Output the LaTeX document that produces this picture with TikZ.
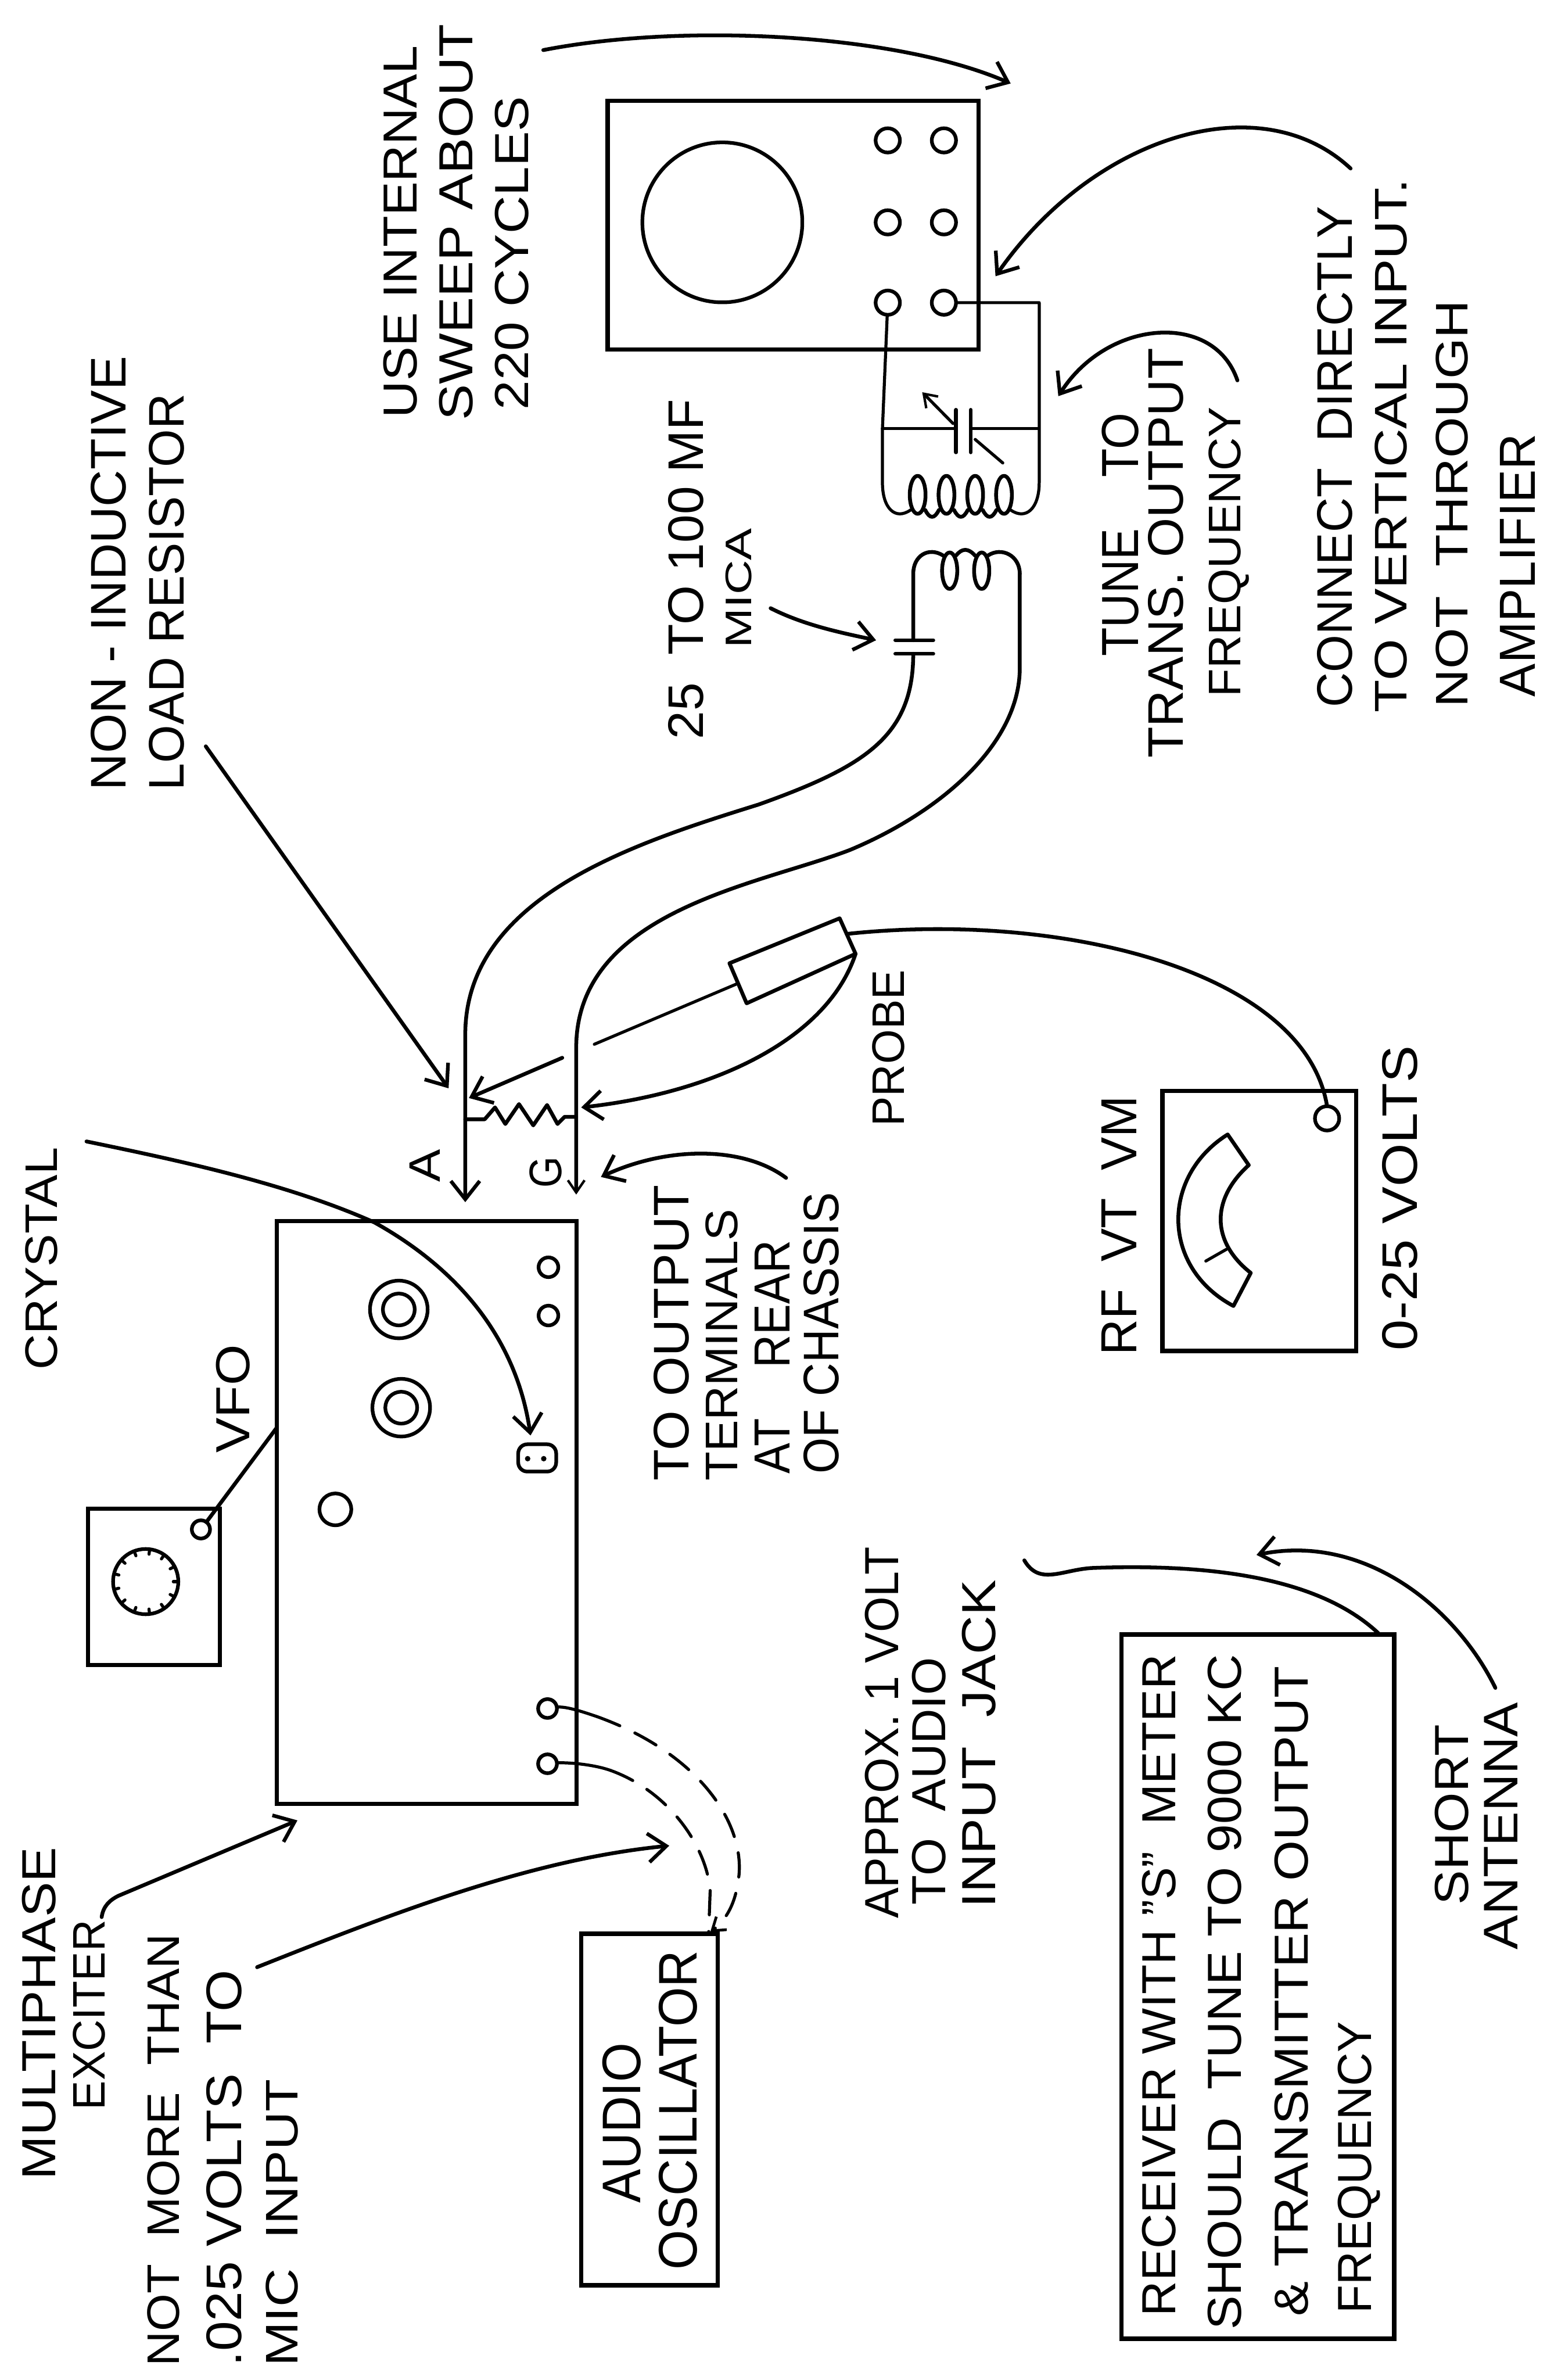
\documentclass[tikz,border=0pt]{standalone}
\usepackage{fontspec}
\usepackage{graphicx}
\setmainfont{Liberation Sans}
\usetikzlibrary{arrows.meta}
\newlength\uu \uu=0.05cm
\newcommand\gp{\hspace{0.55em}}
\tikzset{
  wire/.style={line width=0.125cm,line cap=round,line join=round,black},
  thinw/.style={line width=0.1cm,line cap=round,line join=round,black},
  arr/.style={wire,-{Straight Barb[length=0.6cm,width=0.95cm,line width=0.12cm]}},
  arrs/.style={thinw,-{Straight Barb[length=0.4cm,width=0.55cm,line width=0.08cm]}},
  boxnode/.style={draw,line width=0.14cm,inner sep=0pt,outer sep=0pt,rectangle},
  term/.style={draw,circle,line width=0.12cm,inner sep=0pt,outer sep=0pt},
  lbl/.style={rotate=90,anchor=base west,inner sep=0pt,outer sep=0pt},
  dashw/.style={thinw,dash pattern=on 0.8cm off 0.55cm},
}
\newcommand\lbl[6][22]{\pgfmathsetmacro\lw{#4-#5}\node[lbl] (#2) at (#3,#4) {\resizebox{\lw\uu}{#1\uu}{#6}};}
\newcommand\boxn[5]{\pgfmathsetmacro\bw{#4-#2}\pgfmathsetmacro\bh{#5-#3}\pgfmathsetmacro\bx{(#2+#4)/2}\pgfmathsetmacro\by{(#3+#5)/2}\node[boxnode,minimum width=\bw*0.05cm,minimum height=\bh*0.05cm] (#1) at (\bx,\by) {};}
\newcommand\termn[4]{\node[term,minimum size=#4*0.1cm] (#1) at (#2,#3) {};}
\begin{document}
\begin{tikzpicture}[x=0.05cm,y=-0.05cm]
\useasboundingbox[fill=white] (0,0) rectangle (1019.2,1568);
% boxes
\boxn{scope}{400.4}{66.4}{644.8}{230.2}
\boxn{exciter}{182.5}{804.4}{380}{1188.4}
\boxn{vfo}{58}{994}{145}{1097}
\boxn{vtvm}{766}{718.7}{893.7}{890}
\boxn{osc}{383}{1274}{473}{1505.6}
\boxn{rcv}{739}{1076.8}{918.7}{1540.8}
% scope details
\termn{crt}{476}{146.5}{52.7}
\termn{s1}{585}{92.5}{8}
\termn{s2}{622}{92.5}{8}
\termn{s3}{585}{146.5}{8}
\termn{s4}{622}{146.5}{8}
\termn{s5}{585}{199.4}{8}
\termn{s6}{622}{199.4}{8}
% exciter details
\termn{co1o}{262.8}{862.7}{19}
\termn{co1i}{262.8}{862.7}{10.5}
\termn{co2o}{264.4}{927.4}{19}
\termn{co2i}{264.4}{927.4}{10.5}
\termn{o1}{361.4}{834.9}{6.5}
\termn{o2}{361.4}{866.7}{6.5}
\termn{hole}{221}{994.4}{10.5}
\termn{a1}{360.8}{1125.6}{6.2}
\termn{a2}{360.8}{1162}{6.2}
\node[draw,line width=0.12cm,rounded corners=0.3cm,inner sep=0pt,outer sep=0pt,minimum width=25*0.05cm,minimum height=18*0.05cm] (sock) at (354,960.5) {};
\fill (347.7,961) circle (1.8) (358.3,961) circle (1.8);
% VFO details
\termn{dial}{96}{1042}{21.5}
\foreach \a in {0,27.7,...,359} \draw[thinw] (96,1042) ++(\a:21) -- ++(\a:-2.8);
\termn{vt}{132.4}{1007.6}{6}
\coordinate (ve) at (182.5,940.4);
\draw[wire] (vt) -- (ve);
% VTVM details
\termn{mt}{874.5}{736.8}{8}
\draw[wire] (809,747.4) .. controls (765,775) and (765,835) .. (812.8,860.4) -- (824.2,838.6) .. controls (798,818) and (798,790) .. (822.9,767.6) -- cycle;
\draw[thinw] (794.6,830.8) -- (808.3,823);
% tank circuit
\coordinate (capL) at (581.5,282.4);
\coordinate (capR) at (684,282.4);
\coordinate (coilL) at (581.5,318);
\coordinate (coilR) at (684.8,318);
\coordinate (rc) at (684.8,199.4);
\draw[thinw] (s5) -- (capL) -- (coilL) .. controls (581.5,335) and (590,343) .. (600,336);
\draw[thinw] (s6) -- (rc) -- (coilR) .. controls (684.8,335) and (676,343) .. (666,336);
\draw[thinw] (capL) -- (630,282.4);
\draw[wire] (630,270) -- (630,298);
\draw[wire] (639.7,270) -- (639.7,298);
\draw[thinw] (639.7,282.4) -- (capR);
\draw[arrs] (628,279) -- (607.7,258.4);
\draw[thinw] (642.6,289.5) -- (660.8,305);
\foreach \c in {604.7,623.7,642.6,661.6} \draw[wire] (\c,326) ellipse (5.2 and 12.5);
\foreach \c in {604.7,623.7,642.6} \draw[wire] (\c+5,336) .. controls (\c+8,342) and (\c+11,342) .. (\c+14,336);
% secondary coil
\coordinate (secL) at (601.8,378);
\coordinate (secR) at (672,378);
\coordinate (cp1) at (601.8,421.8);
\coordinate (cp2) at (601.8,430.7);
\draw[wire] (cp1) -- (secL) .. controls (601.8,366) and (612,360) .. (621.5,366);
\draw[wire] (651,366) .. controls (660,360) and (672,366) .. (secR);
\foreach \c in {625.8,646.9} \draw[wire] (\c,376) ellipse (5 and 12);
\draw[wire] (630,366) .. controls (634,361) and (638,361) .. (642.5,366);
\draw[wire] (590,421.8) -- (615,421.8);
\draw[wire] (590,430.7) -- (615,430.7);
% coax wires
\coordinate (aend) at (306.6,792);
\coordinate (gend) at (379.7,787);
\draw[arr] (cp2) .. controls (601.8,485) and (570,505) .. (500,530) .. controls (420,555) and (308,590) .. (306.6,680) -- (aend);
\draw[wire,-{Straight Barb[length=0.4cm,width=0.55cm,line width=0.08cm]}] (secR) -- (672,440) .. controls (672,490) and (620,535) .. (560,560) .. controls (500,583) and (380,600) .. (379.7,690) -- (gend);
% resistor
\draw[wire] (306.6,737.4) -- (319.4,737.4) -- (326.2,729.6) -- (333,740.5) -- (342,727.4) -- (351.4,741.4) -- (360.5,728) -- (367.4,740.5) -- (372,735.8) -- (379.7,735.8);
% probe
\coordinate (p1) at (480.7,634.6);
\coordinate (p2) at (553.3,605);
\coordinate (p3) at (563.8,628.4);
\coordinate (p4) at (492,661);
\draw[wire] (p1) -- (p2) -- (p3) -- (p4) -- cycle;
\draw[thinw] (486,648) -- (391.6,688);
\draw[arr] (370.5,696.9) -- (309,723.4);
\draw[arr] (p3) .. controls (545,685) and (470,720) .. (383,729.6);
\draw[wire] (557.9,615.3) .. controls (700,600) and (860,640) .. (mt.north);
% audio connections
\coordinate (d1) at (393.6,1131);
\coordinate (d2) at (402.4,1166.4);
\draw[thinw] (a1) .. controls (372,1124) and (382,1127) .. (d1);
\draw[thinw] (a2) .. controls (372,1161) and (390,1162) .. (d2);
\draw[dashw,-{Straight Barb[length=0.4cm,width=0.55cm,line width=0.09cm]}] (d1) .. controls (460,1155) and (490,1200) .. (487,1235) .. controls (485,1255) and (478,1265) .. (468,1273);
\draw[dashw] (d2) .. controls (440,1180) and (465,1215) .. (468,1245) -- (467,1273);
% crystal
\draw[arr] (57,752) .. controls (120,765) and (190,780) .. (246.8,805.4) .. controls (300,835) and (340,880) .. (349.6,945.7);
% pointer arrows
\draw[arr] (358,33) .. controls (450,15) and (590,22) .. (666,55);
\draw[arr] (890,111) .. controls (830,55) and (720,90) .. (656,182);
\draw[arr] (815.4,250.6) .. controls (800,205) and (730,210) .. (697.4,261);
\draw[arr] (507.8,400.7) .. controls (530,412) and (555,417) .. (577.3,421.8);
\draw[arr] (135.6,491.7) -- (295.6,717);
\draw[arr] (518,776) .. controls (490,755) and (440,755) .. (396,775.4);
\draw[arr] (67,1263) .. controls (68,1256) and (72,1252) .. (78,1249) -- (196,1199.3);
\draw[arr] (169.4,1296) .. controls (260,1260) and (350,1225) .. (441,1216);
\draw[wire] (908.3,1076) .. controls (870,1040) and (800,1030) .. (720,1033) .. controls (700,1034) and (685,1045) .. (675,1028);
\draw[arr] (985.4,1112) .. controls (960,1060) and (900,1010) .. (828,1024.4);
% labels
\lbl[23]{t1}{83}{520.7}{234.7}{NON - INDUCTIVE}
\lbl[23]{t2}{121}{520.7}{259.5}{LOAD RESISTOR}
\lbl{t3}{274.8}{275.3}{30}{USE INTERNAL}
\lbl{t4}{311.5}{277}{15.9}{SWEEP ABOUT}
\lbl{t5}{348}{270}{63.5}{220 CYCLES}
\lbl[23]{t6}{463.5}{487}{263}{25\gp TO 100 MF}
\lbl[17]{t7}{495}{427}{348}{MICA}
\lbl[24]{t8}{750}{432.4}{272}{TUNE\gp\gp TO}
\lbl[23]{t9}{779.6}{499.5}{229.5}{TRANS. OUTPUT}
\lbl[21]{t10}{817.5}{459}{268}{FREQUENCY}
\lbl[23]{t11}{891}{466}{136}{CONNECT\gp DIRECTLY}
\lbl[21]{t12}{927}{469.5}{118}{TO VERTICAL INPUT.}
\lbl[21]{t13}{967}{466}{197.7}{NOT\gp THROUGH}
\lbl[23]{t14}{1011.4}{459}{286}{AMPLIFIER}
\lbl[21]{t15}{37.7}{902.5}{756}{CRYSTAL}
\lbl[22]{t16}{164.5}{957.3}{886}{VFO}
\lbl[20]{t17}{290}{778.8}{757.2}{A}
\lbl[21]{t18}{370}{782.6}{762}{G}
\lbl[23]{t19}{454}{975.7}{781}{TO OUTPUT}
\lbl[21]{t20}{486}{975.7}{796.6}{TERMINALS}
\lbl[23]{t21}{520.4}{971}{817}{AT\gp\gp REAR}
\lbl[23]{t22}{552.4}{971}{785.6}{OF CHASSIS}
\lbl[21]{t23}{596}{742}{639}{PROBE}
\lbl[23]{t24}{749}{893}{722}{RF\gp VT\gp VM}
\lbl[23]{t25}{934}{890}{689}{0-25 VOLTS}
\lbl[22]{t26}{36.4}{1436}{1217}{MULTIPHASE}
\lbl[21]{t27}{69}{1390}{1265}{EXCITER}
\lbl[21]{t28}{118}{1559}{1274}{NOT\gp MORE\gp THAN}
\lbl[23]{t29}{159}{1559}{1298}{.025 VOLTS\gp TO}
\lbl[21]{t30}{196}{1559}{1370}{MIC\gp INPUT}
\lbl[25]{t31}{422}{1451.6}{1346}{AUDIO}
\lbl[25]{t32}{459}{1495.5}{1285}{OSCILLATOR}
\lbl{t33}{592}{1264}{1019}{APPROX. 1 VOLT}
\lbl{t34}{623}{1255}{1092}{TO\gp AUDIO}
\lbl{t35}{656}{1257}{1041}{INPUT\gp JACK}
\lbl{t36}{774.7}{1526}{1090}{RECEIVER WITH "S"\gp METER}
\lbl{t37}{817.8}{1535}{1090}{SHOULD\gp TUNE TO 9000 KC}
\lbl{t38}{862}{1526}{1097.7}{\& TRANSMITTER OUTPUT}
\lbl{t39}{903.8}{1524}{1332}{FREQUENCY}
\lbl{t40}{967.6}{1255}{1136}{SHORT}
\lbl{t41}{1000}{1284.4}{1121.5}{ANTENNA}
\end{tikzpicture}
\end{document}
